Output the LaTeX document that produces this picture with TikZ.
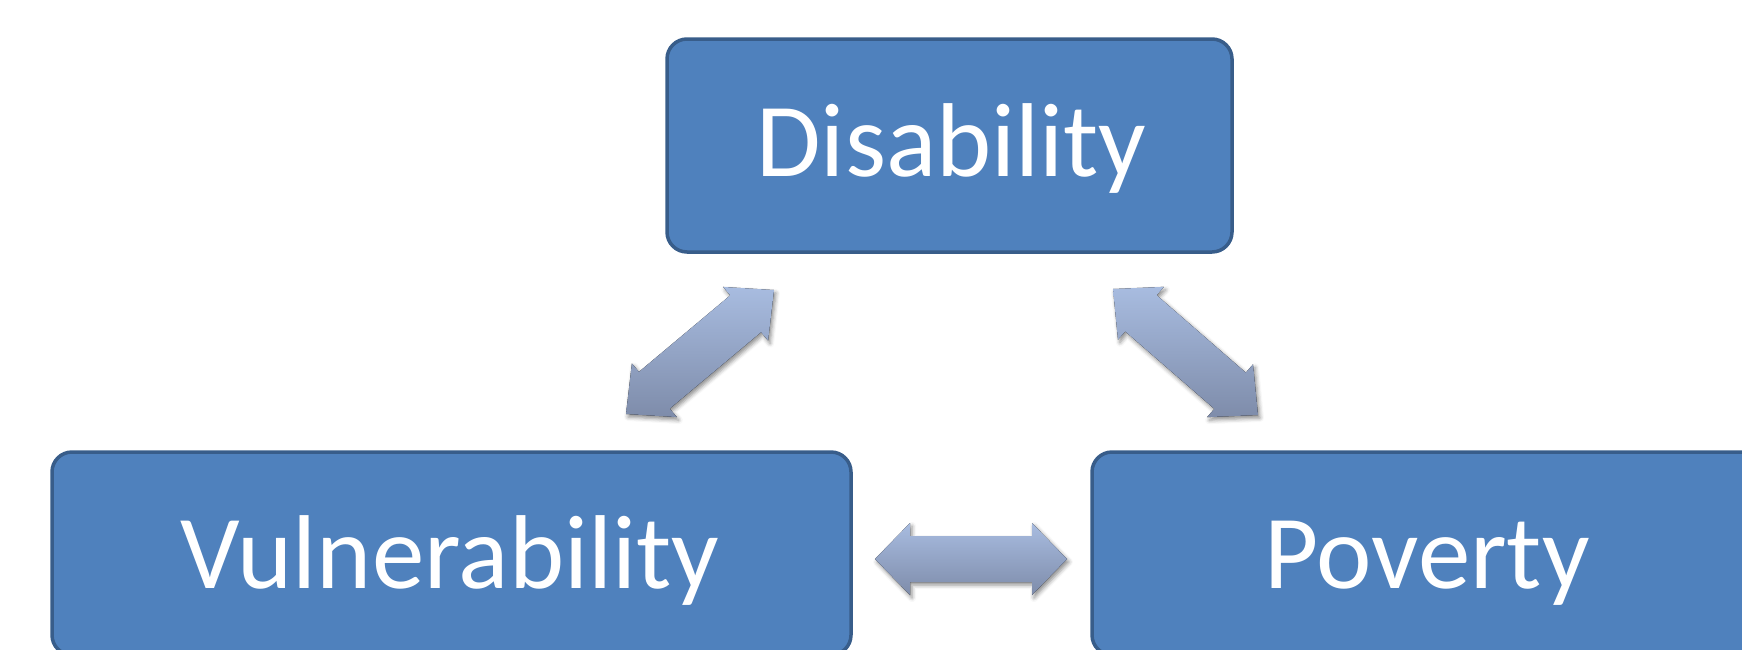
\documentclass[tikz,border=0pt]{standalone}
\usepackage{fontspec}
\setmainfont{Carlito}
\usetikzlibrary{calc,shadows.blur}
\definecolor{boxfill}{RGB}{79,129,189}
\definecolor{boxline}{RGB}{56,93,138}
\definecolor{arrtop}{RGB}{168,188,224}
\definecolor{arrbot}{RGB}{126,140,170}
\tikzset{
  box/.style={draw=boxline, line width=3.5pt, fill=boxfill, rounded corners=20pt, inner sep=0pt},
  lbl/.style={text=white, font=\fontsize{105}{126}\selectfont, inner sep=0pt, anchor=base},
  blockarrow/.style={top color=arrtop, bottom color=arrbot, draw=none,
    blur shadow={shadow xshift=2pt, shadow yshift=-3pt, shadow blur radius=4pt, shadow opacity=45}},
}
\newcommand{\dblarrow}[5]{% tip A, tip B, head length, head half width, shaft half width
  \fill[blockarrow] (#1)
    -- ($($(#1)!#3!(#2)$)!#4!90:(#2)$)
    -- ($($(#1)!#3!(#2)$)!#5!90:(#2)$)
    -- ($($(#2)!#3!(#1)$)!#5!-90:(#1)$)
    -- ($($(#2)!#3!(#1)$)!#4!-90:(#1)$)
    -- (#2)
    -- ($($(#2)!#3!(#1)$)!#4!90:(#1)$)
    -- ($($(#2)!#3!(#1)$)!#5!90:(#1)$)
    -- ($($(#1)!#3!(#2)$)!#5!-90:(#2)$)
    -- ($($(#1)!#3!(#2)$)!#4!-90:(#2)$)
    -- cycle;}
\begin{document}
\begin{tikzpicture}[x=1pt,y=-1pt]
\useasboundingbox (0,0) rectangle (1742,649);
\clip (0,0) rectangle (1742,649);
% boxes
\node[box, minimum width=565pt, minimum height=213pt] (dis) at (949.5,145.5) {};
\node[box, minimum width=799pt, minimum height=203pt] (vul) at (451.5,553.5) {};
\node[box, minimum width=668pt, minimum height=203pt] (pov) at (1426,553.5) {};
% labels
\node[lbl] (disT) at (951.5,176) {Disability};
\node[lbl] (vulT) at (450,588) {Vulnerability};
\node[lbl] (povT) at (1427,588) {Poverty};
% arrow end points
\coordinate (la) at (626,414);
\coordinate (lb) at (774,290);
\coordinate (ra) at (1113,289);
\coordinate (rb) at (1258,415);
\coordinate (ha) at (875,559);
\coordinate (hb) at (1067,559);
\dblarrow{la}{lb}{37pt}{35pt}{24pt}
\dblarrow{ra}{rb}{37pt}{35pt}{24pt}
\dblarrow{ha}{hb}{35pt}{36pt}{23pt}
\end{tikzpicture}
\end{document}
